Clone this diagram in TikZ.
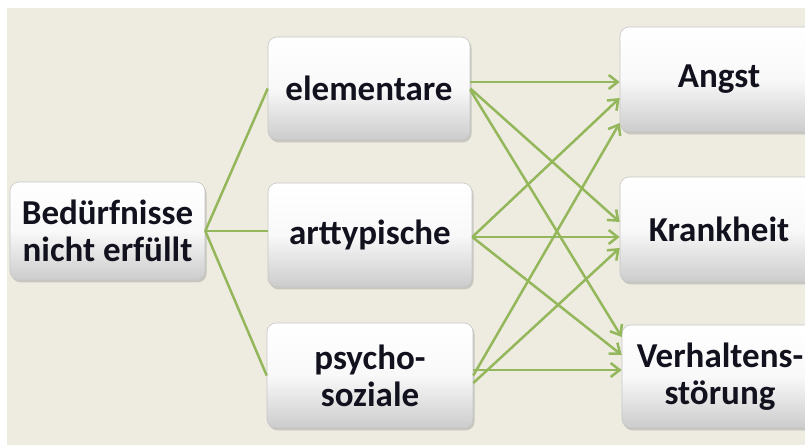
\documentclass[tikz,border=0pt]{standalone}
\usepackage{fontspec}
\setmainfont{Carlito}
\usetikzlibrary{arrows.meta,shadows,calc}
\definecolor{bg}{HTML}{EEECE1}
\definecolor{ln}{HTML}{93B75A}
\definecolor{txt}{HTML}{12121F}
\begin{document}
\begin{tikzpicture}[x=0.5pt,y=-0.5pt,
 box/.style={rounded corners=4.5pt, top color=white, bottom color=gray!40, middle color=gray!5, draw=gray!45, line width=0.3pt,
   drop shadow={shadow xshift=0.8pt, shadow yshift=-1.2pt, opacity=0.35},
   font=\bfseries\fontsize{17.5}{18.5}\selectfont, text=txt, align=center, inner sep=0pt},
 conn/.style={draw=ln, line width=1.25pt},
 arr/.style={conn, -{Straight Barb[length=4.5pt,width=7pt]}}]
\useasboundingbox (0,0) rectangle (805,445);
\fill[white] (0,0) rectangle (805,445);
\fill[bg] (7,8) rectangle (805,445);
\clip (0,0) rectangle (805,445);

\node[box, minimum width=97.5pt, minimum height=49pt] (B) at (107.5,231) {Bedürfnisse\\nicht erfüllt};
\node[box, minimum width=101pt, minimum height=51.5pt] (E) at (369,88.5) {elementare};
\node[box, minimum width=102pt, minimum height=52pt] (A) at (370,235) {arttypische};
\node[box, minimum width=103pt, minimum height=52.5pt] (P) at (370,375.5) {psycho-\\soziale};
\node[box, minimum width=99pt, minimum height=52.5pt] (G) at (719,79.5) {Angst};
\node[box, minimum width=99pt, minimum height=52.5pt] (K) at (719,229.5) {Krankheit};
\node[box, minimum width=98pt, minimum height=51.5pt] (V) at (720,376.5) {Verhaltens-\\störung};

% left fan
\draw[conn] (B.east) -- (E.west);
\draw[conn] (B.east) -- (B.east -| A.west);
\draw[conn] (B.east) -- (P.west);

% from elementare
\draw[arr] ([yshift=3.25pt]E.east) -- ([yshift=-1.25pt]G.west);
\draw[arr] ([yshift=0pt]E.east) -- ([yshift=3.75pt]K.west);
\draw[arr] ([yshift=-0.75pt]E.east) -- ([yshift=19.75pt]V.west);
% from arttypische
\draw[arr] ([yshift=-1pt]A.east) -- ([yshift=-9.25pt]G.west);
\draw[arr] ([yshift=-1pt]A.east) -- ([yshift=-3.75pt]K.west);
\draw[arr] ([yshift=-1pt]A.east) -- ([yshift=10.75pt]V.west);
% from psycho-soziale
\draw[arr] ([yshift=0pt]P.east) -- ([yshift=-21.75pt]G.west);
\draw[arr] ([yshift=-3.75pt]P.east) -- ([yshift=-9.25pt]K.west);
\draw[arr] ([yshift=2.75pt]P.east) -- ([yshift=3.25pt]V.west);
\end{tikzpicture}
\end{document}
